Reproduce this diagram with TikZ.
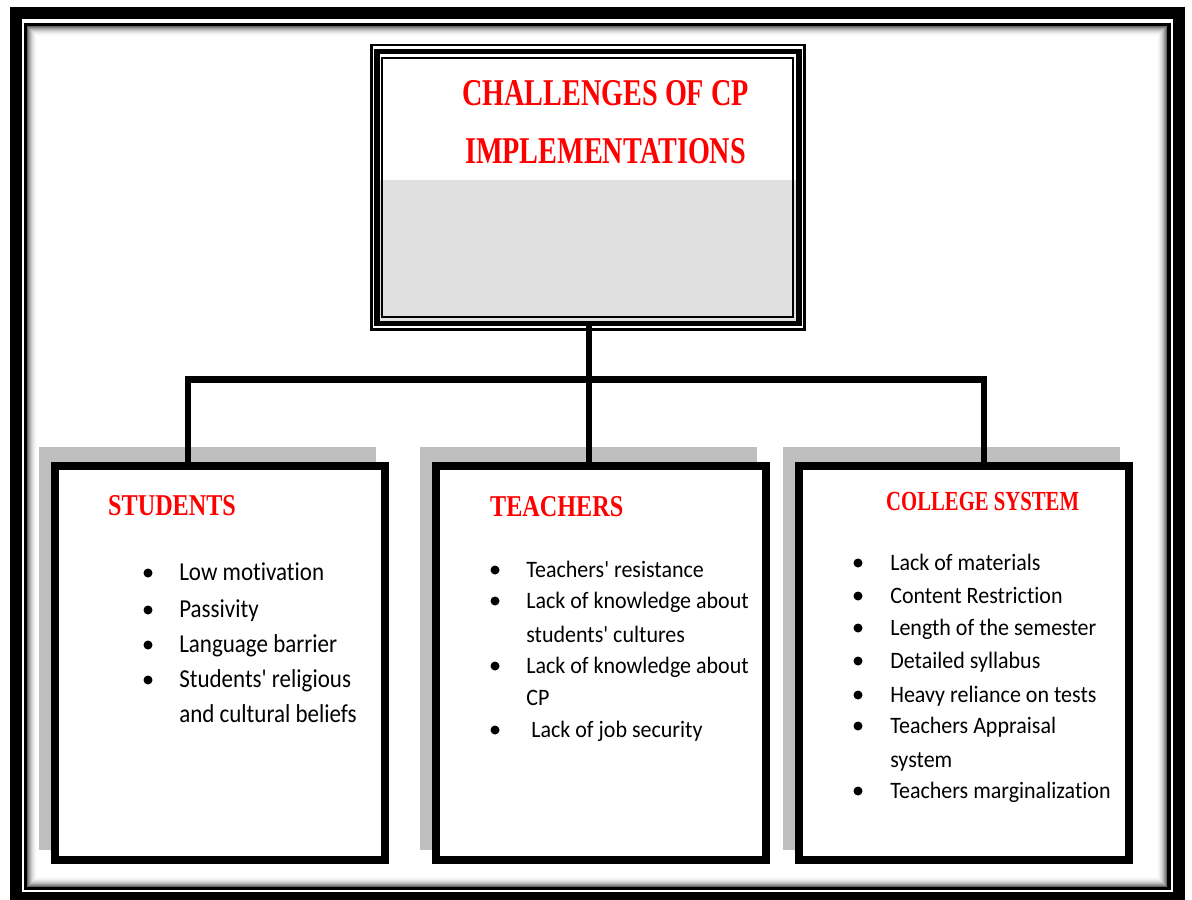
\documentclass[tikz,border=0pt]{standalone}
\usepackage{fontspec}
\setmainfont{Carlito}[Ligatures=CommonOff]
\newfontfamily\headfont{Liberation Serif}
\usetikzlibrary{calc,shadows}

\definecolor{shadowgray}{gray}{0.75}
\definecolor{titlegray}{gray}{0.88}

\tikzset{
  link/.style={line width=4.3pt},
  topbox/.style={draw, line width=3.9pt, fill=white, outer sep=0pt,
    minimum width=10.55cm, minimum height=6.8cm,
    path picture={\fill[titlegray] (path picture bounding box.south west)
      rectangle ($(path picture bounding box.east)+(0,-7.5)$);}},
  lowbox/.style={draw, line width=5.2pt, fill=white,
    minimum width=8.25cm, minimum height=9.85cm,
    general shadow={fill=shadowgray, shadow xshift=-0.3cm,
      shadow yshift=0.35cm, shadow scale=1.022}},
  titletext/.style={anchor=base west, inner sep=0pt, text=red,
    font=\headfont\bfseries\fontsize{26.9}{30}\selectfont, xscale=0.745},
  heading/.style={anchor=base west, inner sep=0pt, text=red,
    font=\headfont\bfseries\fontsize{21.5}{24}\selectfont, xscale=0.8},
  item/.style={anchor=base west, inner sep=0pt, yscale=1.07,
    font=\fontsize{15.65}{18}\selectfont},
}

\begin{document}
\begin{tikzpicture}[x=0.025cm,y=-0.025cm]
\useasboundingbox (0,0) rectangle (1192,900);

% cadre de la page
\draw[line width=8.2pt] (15.75,12.75) rectangle (1179,898);
\draw[line width=2.5pt] (25.5,24.7) rectangle (1169,888.5);
\foreach \i/\c in {1/60,2/48,3/38,4/29,5/21,6/15,7/10,8/6,9/3,10/1}
  {\draw[black!\c, line width=0.75pt] (26.75+\i,26+\i) rectangle (1167.8-\i,887.2-\i);}

% boite du titre
\node[topbox] (root) at (588,187.5) {};
\draw[line width=1.8pt] ($(root.south west)+(-5.2,6)$) rectangle ($(root.north east)+(5.2,-6.5)$);
\draw[line width=1.6pt] ($(root.south west)+(4.7,-6.2)$) rectangle ($(root.north east)+(-6,6.8)$);
\node[titletext] (title1) at (462,106) {CHALLENGES OF CP};
\node[titletext] (title2) at (465,163.3) {IMPLEMENTATIONS};

% les trois boites
\node[lowbox] (students) at (220,663) {};
\node[lowbox] (teachers) at (601,663) {};
\node[lowbox] (college) at (964,663) {};

% liaisons
\coordinate (jS) at (188,379.5);
\coordinate (jT) at (589,379.5);
\coordinate (jC) at (984,379.5);
\draw[link] (jT |- root.south) -- (jT) -- (jT |- teachers.north);
\draw[link] (jS |- students.north) -- (jS) -- (jC) -- (jC |- college.north);

% titres des boites
\node[heading] (hS) at (108,515) {STUDENTS};
\node[heading] (hT) at (490,516) {TEACHERS};
\node[heading, font=\headfont\bfseries\fontsize{19.6}{22}\selectfont, xscale=0.94] (hC) at (886,510) {COLLEGE SYSTEM};

% listes
\foreach \y/\t/\b [count=\i] in {580/Low motivation/1, 617/Passivity/1,
    652/Language barrier/1, 687/Students\textquotesingle\ religious/1, 722/and cultural beliefs/0}
  {\node[item, yscale=1.05, font=\fontsize{16.36}{19}\selectfont] (s\i) at (179,\y) {\t};
   \ifnum\b=1 \fill (148,\y-7) circle (4.5); \fi}

\foreach \y/\t/\b [count=\i] in {577/Teachers\textquotesingle\ resistance/1, 608/Lack of knowledge about/1,
    642/students\textquotesingle\ cultures/0, 673/Lack of knowledge about/1, 705/CP/0}
  {\node[item] (t\i) at (526,\y) {\t};
   \ifnum\b=1 \fill (495,\y-7) circle (4.5); \fi}
\node[item] (t6) at (531,737) {Lack of job security};
\fill (495,730) circle (4.5);

\foreach \y/\t/\b [count=\i] in {570/Lack of materials/1, 603/Content Restriction/1,
    635/Length of the semester/1, 668/Detailed syllabus/1, 702/Heavy reliance on tests/1,
    733/Teachers Appraisal/1, 767/system/0, 798/Teachers marginalization/1}
  {\node[item] (c\i) at (890,\y) {\t};
   \ifnum\b=1 \fill (858,\y-7) circle (4.5); \fi}

\end{tikzpicture}
\end{document}
